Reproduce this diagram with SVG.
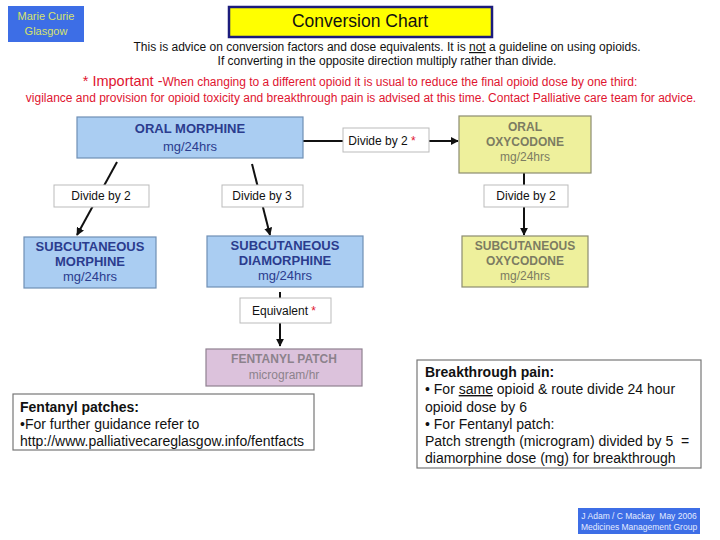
<svg xmlns="http://www.w3.org/2000/svg" width="720" height="540" viewBox="0 0 720 540">
<defs>
<style>
text{font-family:"Liberation Sans",Arial,sans-serif}
.blue{fill:#aacdf2;stroke:#6f8fb5;stroke-width:1.2}
.bt{fill:#2b3c8e;font-size:13px;text-anchor:middle}
.yel{fill:#eef09c;stroke:#8c8c70;stroke-width:1.2}
.yt{fill:#7c7c62;font-size:12px;text-anchor:middle}
.pink{fill:#dcc2dc;stroke:#8f8090;stroke-width:1.2}
.pt{fill:#8c828c;font-size:12px;text-anchor:middle}
.lab{fill:#ffffff;stroke:#bbbbbb;stroke-width:1}
.lt{fill:#111;font-size:12px;text-anchor:middle}
.note{fill:#ffffff;stroke:#777;stroke-width:1.2}
.nt{fill:#111;font-size:14px}
.red{fill:#e01530}
.con{stroke:#111;stroke-width:2;fill:none}
.b{font-weight:bold}
</style>
<marker id="ah" viewBox="0 0 10 10" refX="9" refY="5" markerWidth="4" markerHeight="4" orient="auto">
<path d="M0,0 L10,5 L0,10 z" fill="#111"/>
</marker>
</defs>
<rect width="720" height="540" fill="#ffffff"/>

<g id="logo">
<rect x="8" y="6" width="76" height="36" fill="#3d6ee6"/>
<text x="46" y="20" font-size="11" fill="#d7e36c" text-anchor="middle">Marie Curie</text>
<text x="46" y="35" font-size="11" fill="#d7e36c" text-anchor="middle">Glasgow</text>
</g>

<g id="title">
<rect x="229" y="7" width="263" height="30" fill="#ffff00" stroke="#1c1c7c" stroke-width="2.5"/>
<text x="360" y="27" font-size="17.5" fill="#111" text-anchor="middle">Conversion Chart</text>
</g>

<g id="intro">
<text x="387" y="51" font-size="12" fill="#111" text-anchor="middle">This is advice on conversion factors and dose equivalents.  It is <tspan text-decoration="underline">not</tspan> a guideline on using opioids.</text>
<text x="387" y="65" font-size="12" fill="#111" text-anchor="middle">If converting in the opposite direction multiply rather than divide.</text>
<text x="360" y="86" font-size="12" class="red" text-anchor="middle"><tspan font-size="14.5">* Important -</tspan>When changing to a different opioid it is usual to reduce the final opioid dose by one third:</text>
<text x="361" y="102" font-size="12" class="red" text-anchor="middle">vigilance and provision for opioid toxicity and breakthrough pain is advised at this time. Contact Palliative care team for advice.</text>
</g>

<g id="connectors">
<line class="con" x1="303" y1="141" x2="343" y2="141"/>
<line class="con" x1="429" y1="141" x2="458" y2="141" marker-end="url(#ah)"/>
<line class="con" x1="117" y1="162" x2="77" y2="235" marker-end="url(#ah)"/>
<line class="con" x1="252" y1="164" x2="270" y2="235" marker-end="url(#ah)"/>
<line class="con" x1="524" y1="173" x2="524" y2="235" marker-end="url(#ah)"/>
<line class="con" x1="280" y1="292" x2="280" y2="346" marker-end="url(#ah)"/>
</g>

<g id="oral-morphine">
<rect class="blue" x="77" y="117" width="226" height="41"/>
<text class="bt b" x="190" y="133">ORAL MORPHINE</text>
<text class="bt" x="190" y="151">mg/24hrs</text>
</g>

<g id="label-divide2-star">
<rect class="lab" x="343" y="128" width="86" height="24"/>
<text class="lt" x="382" y="145">Divide by 2 <tspan class="red">*</tspan></text>
</g>

<g id="oral-oxycodone">
<rect class="yel" x="459" y="116" width="132" height="57"/>
<text class="yt b" x="525" y="131">ORAL</text>
<text class="yt b" x="525" y="146">OXYCODONE</text>
<text class="yt" x="525" y="161">mg/24hrs</text>
</g>

<g id="label-divide2-left">
<rect class="lab" x="54" y="185" width="95" height="22"/>
<text class="lt" x="101" y="200">Divide by 2</text>
</g>

<g id="label-divide3">
<rect class="lab" x="222" y="185" width="81" height="22"/>
<text class="lt" x="262" y="200">Divide by 3</text>
</g>

<g id="label-divide2-right">
<rect class="lab" x="484" y="185" width="84" height="22"/>
<text class="lt" x="526" y="200">Divide by 2</text>
</g>

<g id="sc-morphine">
<rect class="blue" x="24" y="237" width="132" height="51"/>
<text class="bt b" x="90" y="251" font-size="12">SUBCUTANEOUS</text>
<text class="bt b" x="90" y="266" font-size="12">MORPHINE</text>
<text class="bt" x="90" y="281" font-size="12">mg/24hrs</text>
</g>

<g id="sc-diamorphine">
<rect class="blue" x="207" y="236" width="156" height="51"/>
<text class="bt b" x="285" y="250" font-size="12">SUBCUTANEOUS</text>
<text class="bt b" x="285" y="265" font-size="12">DIAMORPHINE</text>
<text class="bt" x="285" y="280" font-size="12">mg/24hrs</text>
</g>

<g id="sc-oxycodone">
<rect class="yel" x="462" y="236" width="126" height="51"/>
<text class="yt b" x="525" y="250">SUBCUTANEOUS</text>
<text class="yt b" x="525" y="265">OXYCODONE</text>
<text class="yt" x="525" y="280">mg/24hrs</text>
</g>

<g id="label-equivalent">
<rect class="lab" x="240" y="298" width="91" height="25"/>
<text class="lt" x="284" y="315">Equivalent <tspan class="red">*</tspan></text>
</g>

<g id="fentanyl-patch">
<rect class="pink" x="206" y="349" width="156" height="37"/>
<text class="pt b" x="284" y="363">FENTANYL PATCH</text>
<text class="pt" x="284" y="379">microgram/hr</text>
</g>

<g id="fentanyl-note">
<rect class="note" x="13" y="394" width="301" height="56"/>
<text class="nt b" x="20" y="412">Fentanyl patches:</text>
<text class="nt" x="20" y="429">•For further guidance refer to</text>
<text class="nt" x="20" y="446">http://www.palliativecareglasgow.info/fentfacts</text>
</g>

<g id="breakthrough-note">
<rect class="note" x="417" y="360" width="284" height="108"/>
<text class="nt b" x="425" y="377">Breakthrough pain:</text>
<text class="nt" x="425" y="394">• For <tspan text-decoration="underline">same</tspan> opioid &amp; route divide 24 hour</text>
<text class="nt" x="425" y="412">opioid dose by 6</text>
<text class="nt" x="425" y="429">• For Fentanyl patch:</text>
<text class="nt" x="425" y="446" xml:space="preserve">Patch strength (microgram) divided by 5  =</text>
<text class="nt" x="425" y="463">diamorphine dose (mg) for breakthrough</text>
</g>

<g id="footer">
<rect x="578" y="508" width="122" height="26" fill="#3d6ee6"/>
<text x="639" y="519" font-size="8.5" fill="#e4ecff" text-anchor="middle" xml:space="preserve">J Adam / C Mackay  May 2006</text>
<text x="639" y="529.5" font-size="8.5" fill="#e4ecff" text-anchor="middle">Medicines Management Group</text>
</g>
</svg>
